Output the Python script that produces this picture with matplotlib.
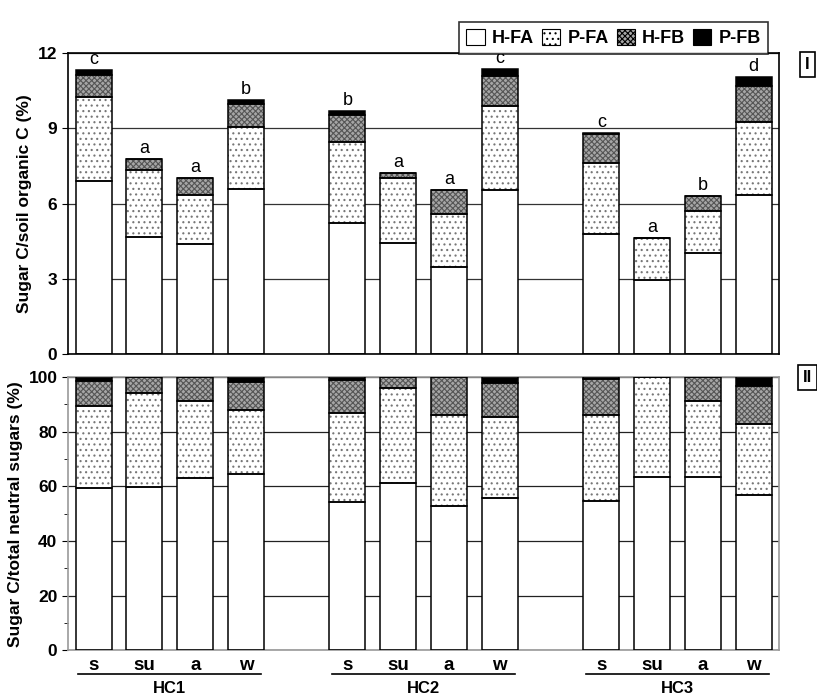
import matplotlib
matplotlib.use('Agg')
import matplotlib.pyplot as plt
import numpy as np

plt.rcParams['font.family'] = ['Liberation Sans', 'DejaVu Sans']
plt.rcParams['hatch.linewidth'] = 0.8

# categories
groups = ['HC1', 'HC2', 'HC3']
seasons = ['s', 'su', 'a', 'w']
components = ['H-FA', 'P-FA', 'H-FB', 'P-FB']

# panel I: sugar C / soil organic C (%), one value per bar (HC1 s..w, HC2 s..w, HC3 s..w)
soc_hfa = [6.88, 4.68, 4.39, 6.58, 5.24, 4.43, 3.46, 6.54, 4.78, 2.95, 4.04, 6.33]
soc_pfa = [3.36, 2.67, 1.94, 2.46, 3.23, 2.58, 2.13, 3.34, 2.85, 1.66, 1.68, 2.93]
soc_hfb = [0.88, 0.43, 0.69, 0.92, 1.07, 0.19, 0.95, 1.22, 1.16, 0.00, 0.58, 1.42]
soc_pfb = [0.20, 0.00, 0.00, 0.18, 0.14, 0.03, 0.00, 0.26, 0.03, 0.00, 0.00, 0.38]
letters = ['c', 'a', 'a', 'b', 'b', 'a', 'a', 'c', 'c', 'a', 'b', 'd']

# panel II: sugar C / total neutral sugars (%)
tns_hfa = [59.3, 59.9, 62.9, 64.5, 54.1, 61.3, 52.7, 55.7, 54.6, 63.5, 63.5, 56.7]
tns_pfa = [30.2, 34.4, 28.2, 23.4, 32.8, 34.8, 33.5, 29.7, 31.7, 36.5, 27.6, 26.0]
tns_hfb = [9.0, 5.7, 8.9, 10.3, 11.9, 3.9, 13.8, 12.3, 13.0, 0.0, 8.9, 14.0]
tns_pfb = [1.5, 0.0, 0.0, 1.8, 1.2, 0.0, 0.0, 2.3, 0.7, 0.0, 0.0, 3.3]

# bar positions: 4 bars per group, one empty slot between groups
pos = np.array([g * 5 + i for g in range(len(groups)) for i in range(len(seasons))])
width = 0.71

# fill colour, hatch, hatch colour for each component
styles = [
    ('white', None, 'black'),
    ('white', '...', '#777777'),
    ('#a6a6a6', 'xxxxxx', '#555555'),
    ('black', None, 'black'),
]


def stacked(ax, parts):
    bottom = np.zeros(len(pos))
    handles = []
    for vals, (fc, hatch, hc), name in zip(parts, styles, components):
        vals = np.array(vals)
        # hatch drawn in its own colour, then a black outline on top
        b = ax.bar(pos, vals, width, bottom=bottom, facecolor=fc, hatch=hatch,
                   edgecolor=hc, linewidth=0, label=name, zorder=2)
        ax.bar(pos, vals, width, bottom=bottom, fill=False, edgecolor='black',
               linewidth=1.1, zorder=3)
        handles.append(b)
        bottom = bottom + vals
    return bottom, handles


fig = plt.figure(figsize=(8.17, 6.97), dpi=100)
ax1 = fig.add_axes([0.083, 0.492, 0.871, 0.432])
ax2 = fig.add_axes([0.083, 0.067, 0.871, 0.392])

# --- panel I
tops, handles = stacked(ax1, [soc_hfa, soc_pfa, soc_hfb, soc_pfb])
for x, t, l in zip(pos, tops, letters):
    ax1.text(x, t + 0.08, l, ha='center', va='bottom', fontsize=13)
ax1.set_xlim(-0.51, 13.51)
ax1.set_ylim(0, 12)
ax1.set_yticks([0, 3, 6, 9, 12])
ax1.set_xticks([])
ax1.yaxis.grid(True, color='#333333', linewidth=0.9)
ax1.set_axisbelow(True)
ax1.tick_params(axis='y', direction='out', length=4, labelsize=12.5)
for lab in ax1.get_yticklabels():
    lab.set_fontweight('bold')
for sp in ax1.spines.values():
    sp.set_color('black')
    sp.set_linewidth(1.2)
ax1.set_ylabel('Sugar C/soil organic C (%)', fontsize=12.5, fontweight='bold')

# --- panel II
stacked(ax2, [tns_hfa, tns_pfa, tns_hfb, tns_pfb])
ax2.set_xlim(-0.51, 13.51)
ax2.set_ylim(0, 100)
ax2.set_yticks([0, 20, 40, 60, 80, 100])
ax2.set_yticks([10, 30, 50, 70, 90], minor=True)
ax2.set_xticks(pos)
ax2.set_xticklabels(seasons * len(groups), fontsize=13.5, fontweight='bold')
ax2.tick_params(axis='x', length=0, pad=5)
ax2.tick_params(axis='y', which='major', direction='out', length=4, labelsize=12.5)
ax2.tick_params(axis='y', which='minor', direction='out', length=3)
for lab in ax2.get_yticklabels():
    lab.set_fontweight('bold')
ax2.yaxis.grid(True, color='#222222', linewidth=0.9)
ax2.set_axisbelow(True)
for sp in ax2.spines.values():
    sp.set_color('#999999')
    sp.set_linewidth(1.2)
ax2.set_ylabel('Sugar C/total neutral sugars (%)', fontsize=12.5, fontweight='bold')

# group underlines and names
for g, name in enumerate(groups):
    first, last = pos[g * 4], pos[g * 4 + 3]
    ax2.plot([first - 0.3, last + 0.3], [-0.088, -0.088], color='black', lw=1.2,
             transform=ax2.get_xaxis_transform(), clip_on=False)
    ax2.text((first + last) / 2, -0.138, name, ha='center', va='center',
             fontsize=12, fontweight='bold', transform=ax2.get_xaxis_transform())

# legend
leg = fig.legend(handles=handles, labels=components, loc='upper right',
                 bbox_to_anchor=(0.951, 0.982), ncol=4, frameon=True, fancybox=False,
                 edgecolor='black', handlelength=1.0, handleheight=1.0,
                 handletextpad=0.4, columnspacing=0.45, borderpad=0.4,
                 prop=dict(weight='bold', size=13))
leg.get_frame().set_linewidth(1.2)
for h in leg.legend_handles:
    h.set_linewidth(0.8)
    h.set_edgecolor('black')

# panel tags
for txt, y in [('I', 0.908), ('II', 0.458)]:
    fig.text(0.988, y, txt, ha='center', va='center', fontsize=12, fontweight='bold',
             bbox=dict(boxstyle='square,pad=0.3', facecolor='white', edgecolor='black', lw=1.2))

fig.savefig('out.png', dpi=100)
